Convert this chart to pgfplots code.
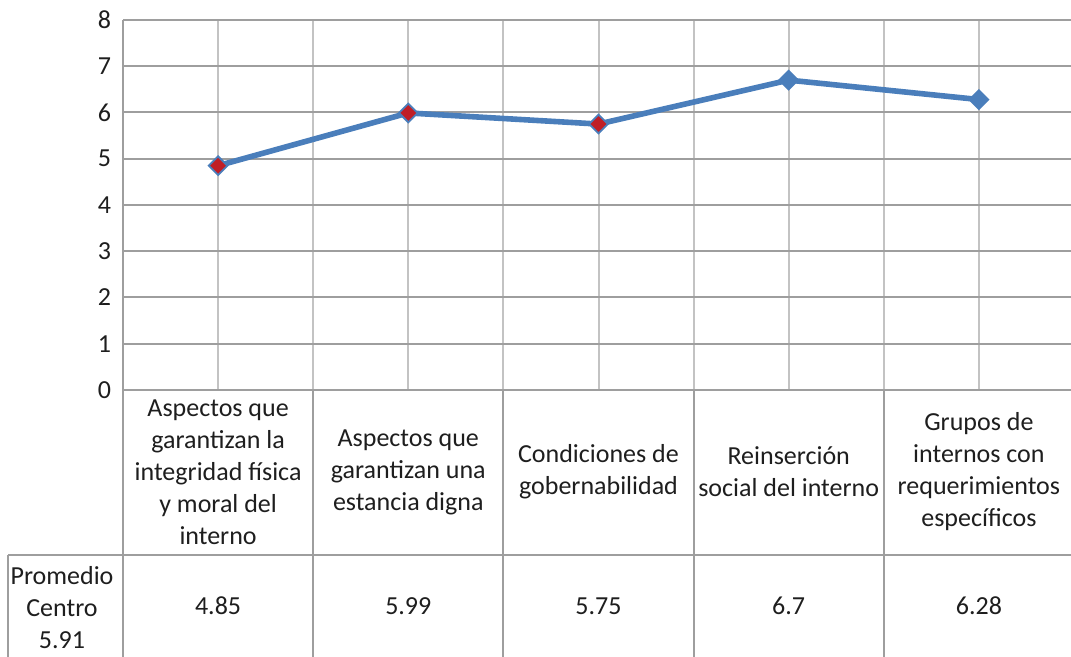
\documentclass[border=0pt]{standalone}
\usepackage{fontspec}
\setmainfont{Carlito}
\usepackage{pgfplots}
\pgfplotsset{compat=1.18}
\definecolor{lineblue}{RGB}{74,126,187}
\definecolor{mkred}{RGB}{192,30,38}
\definecolor{gridmaj}{RGB}{158,158,158}
\definecolor{gridmin}{RGB}{195,195,195}
\definecolor{txt}{RGB}{30,30,30}
\pgfplotstableread{
x y c
0 4.85 r
1 5.99 r
2 5.75 r
3 6.7 b
4 6.28 b
}\datatable
\begin{document}
\fontsize{13}{16}\selectfont
\begin{tikzpicture}[x=1pt,y=1pt]
\path[use as bounding box] (0,0) rectangle (535.5,328.5);
\clip (0,0) rectangle (535.5,328.5);
\begin{axis}[
  at={(61.5pt,133.5pt)}, anchor=south west,
  scale only axis, width=475.5pt, height=185pt,
  xmin=-0.5, xmax=4.5, ymin=0, ymax=8,
  ytick={0,1,...,8},
  xtick={-0.5,0.5,1.5,2.5,3.5,4.5}, xticklabels={},
  minor xtick={0,1,2,3,4},
  xmajorgrids, xminorgrids, ymajorgrids,
  major x grid style={gridmin, line width=1pt},
  minor x grid style={gridmin, line width=1pt},
  major y grid style={gridmaj, line width=1pt},
  axis x line*=bottom, axis y line*=left,
  axis line style={gridmaj, line width=1pt},
  major tick length=0pt, minor tick length=0pt,
  /pgf/number format/assume math mode=true,
  yticklabel style={font=\fontsize{13}{16}\selectfont, text=txt, xshift=-1.5pt},
  clip=false,
]
\addplot[lineblue, line width=2.8pt, scatter, scatter src=explicit symbolic,
  scatter/classes={
    r={mark=square*, fill=mkred, draw=lineblue},
    b={mark=square*, fill=lineblue, draw=lineblue}},
  mark size=3.3pt,
  mark options={rotate=45, line width=0.9pt, solid}]
  table[x=x, y=y, meta=c] {\datatable};
% table lines
\foreach \xx in {-0.5,0.5,1.5,2.5,3.5,4.5}{
  \edef\tmp{\noexpand\draw[gridmaj, line width=1pt] (axis cs:\xx,0) -- ++(0pt,-140pt);}
  \tmp
}
\draw[gridmaj, line width=1pt] (axis cs:-0.5,0) ++(-57.5pt,-82.5pt) -- ++(540pt,0pt);
\draw[gridmaj, line width=1pt] (axis cs:-0.5,0) ++(-57.5pt,-82.5pt) -- ++(0pt,-60pt);
% category labels
\tikzset{cell/.style={align=center, text=txt, font=\fontsize{13}{16}\selectfont}}
\node[cell] at ([yshift=-41pt]axis cs:0,0) {Aspectos que\\garantizan la\\integridad física\\y moral del\\interno};
\node[cell] at ([yshift=-41pt]axis cs:1,0) {Aspectos que\\garantizan una\\estancia digna};
\node[cell] at ([yshift=-41pt]axis cs:2,0) {Condiciones de\\gobernabilidad};
\node[cell] at ([yshift=-41pt]axis cs:3,0) {Reinserción\\social del interno};
\node[cell] at ([yshift=-41pt]axis cs:4,0) {Grupos de\\internos con\\requerimientos\\específicos};
% value row
\node[cell] at ([yshift=-108pt]axis cs:0,0) {4.85};
\node[cell] at ([yshift=-108pt]axis cs:1,0) {5.99};
\node[cell] at ([yshift=-108pt]axis cs:2,0) {5.75};
\node[cell] at ([yshift=-108pt]axis cs:3,0) {6.7};
\node[cell] at ([yshift=-108pt]axis cs:4,0) {6.28};
\node[cell] at ([xshift=-30.5pt,yshift=-109pt]axis cs:-0.5,0) {Promedio\\Centro\\5.91};
\end{axis}
\end{tikzpicture}
\end{document}
